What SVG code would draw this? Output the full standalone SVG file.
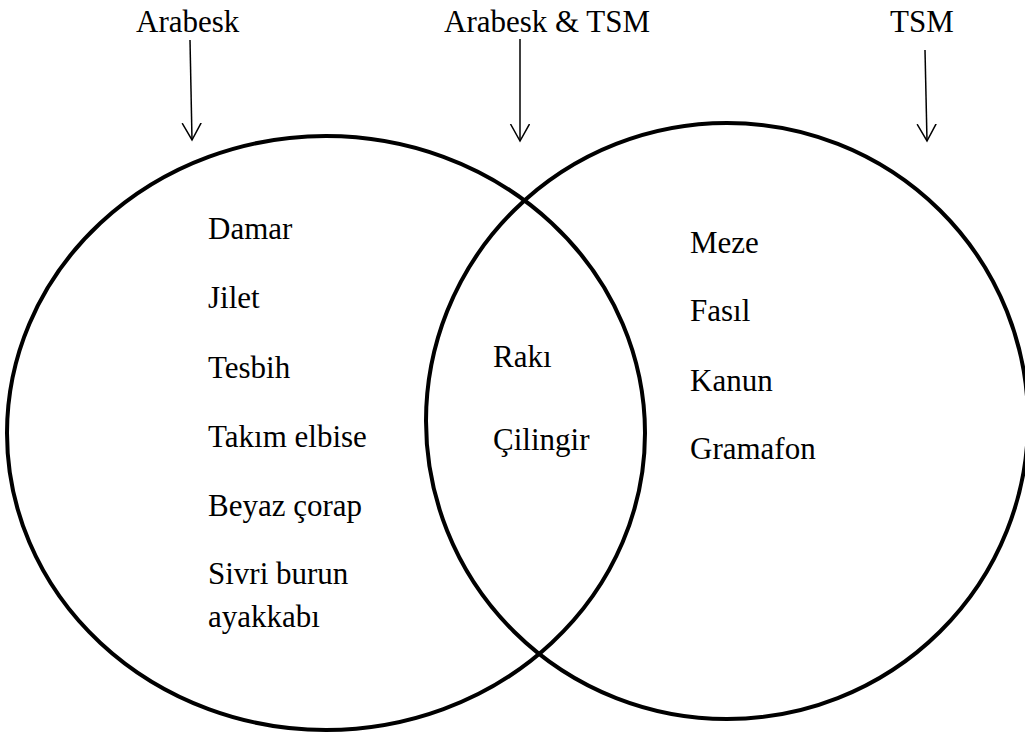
<svg xmlns="http://www.w3.org/2000/svg" width="1025" height="735" viewBox="0 0 1025 735">
<style>
text{font-family:"Liberation Serif","Times New Roman",serif;font-size:31px;fill:#000}
.set{fill:none;stroke:#000;stroke-width:4}
.arr{fill:none;stroke:#000;stroke-width:1.5}
</style>
<defs>
<marker id="v" markerWidth="20" markerHeight="22" refX="17" refY="10" orient="auto" markerUnits="userSpaceOnUse" viewBox="0 0 20 22">
<path d="M0,0.5 L17,10 L0,19.5" fill="none" stroke="#000" stroke-width="1.5"/>
</marker>
</defs>
<rect width="1025" height="735" fill="#fff"/>
<g id="set-arabesk">
<ellipse class="set" cx="326" cy="433" rx="319" ry="297"/>
<text x="208" y="239">Damar</text>
<text x="208" y="308">Jilet</text>
<text x="208" y="378">Tesbih</text>
<text x="208" y="447">Takım elbise</text>
<text x="208" y="516">Beyaz çorap</text>
<text x="208" y="584">Sivri burun</text>
<text x="208" y="627">ayakkabı</text>
</g>
<g id="set-tsm">
<ellipse class="set" cx="727" cy="421" rx="301" ry="298"/>
<text x="690" y="253">Meze</text>
<text x="690" y="321">Fasıl</text>
<text x="690" y="391">Kanun</text>
<text x="690" y="459">Gramafon</text>
</g>
<g id="set-both">
<text x="493" y="367">Rakı</text>
<text x="493" y="450">Çilingir</text>
</g>
<g id="label-arabesk"><text x="136" y="32">Arabesk</text></g>
<g id="label-both"><text x="444" y="32">Arabesk &amp; TSM</text></g>
<g id="label-tsm"><text x="890" y="32">TSM</text></g>
<g id="connectors">
<line class="arr" x1="190" y1="40" x2="192" y2="140" marker-end="url(#v)"/>
<line class="arr" x1="520" y1="39" x2="520" y2="141" marker-end="url(#v)"/>
<line class="arr" x1="925" y1="50" x2="927" y2="141" marker-end="url(#v)"/>
</g>
</svg>
